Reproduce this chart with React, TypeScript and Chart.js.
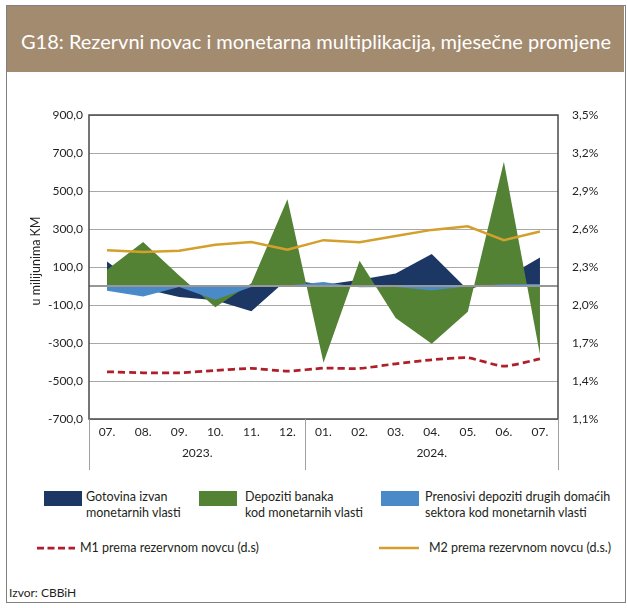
import React, { useEffect, useRef } from 'react';
import { Chart, registerables } from 'chart.js';

Chart.register(...registerables);

// ---------- data ----------
const months = ['07.', '08.', '09.', '10.', '11.', '12.', '01.', '02.', '03.', '04.', '05.', '06.', '07.'];
const yearLabels = ['2023.', '2024.'];
const yearStarts = [0, 6];

const gotovina = [129, -15, -58, -75, -133, 35, 5, 33, 66, 168, -20, 40, 150];
const depoziti = [85, 232, 55, -112, 15, 457, -404, 133, -168, -304, -135, 654, -361];
const prenosivi = [-25, -55, -5, -72, -5, 2, 21, -7, -5, -23, -3, 10, 10];
const m1 = [1.473, 1.465, 1.465, 1.483, 1.499, 1.478, 1.501, 1.499, 1.536, 1.567, 1.583, 1.517, 1.575];
const m2 = [2.433, 2.418, 2.428, 2.475, 2.497, 2.436, 2.512, 2.496, 2.545, 2.593, 2.622, 2.512, 2.58];

const leftTicks = [-700, -500, -300, -100, 100, 300, 500, 700, 900];
const rightTicks = [1.1, 1.4, 1.7, 2.0, 2.3, 2.6, 2.9, 3.2, 3.5];

const title = 'G18: Rezervni novac i monetarna multiplikacija, mjesečne promjene';
const yTitle = 'u milijunima KM';
const source = 'Izvor:  CBBiH';
const labelGotovina = ['Gotovina izvan', 'monetarnih vlasti'];
const labelDepoziti = ['Depoziti banaka', 'kod monetarnih vlasti'];
const labelPrenosivi = ['Prenosivi depoziti drugih domaćih', 'sektora kod monetarnih vlasti'];
const labelM1 = 'M1 prema rezervnom novcu (d.s)';
const labelM2 = 'M2 prema rezervnom novcu (d.s.)';

// ---------- styles ----------
const FONT = 'Lato, "Open Sans", sans-serif';
const TEXT = '#231f20';
const C_DARK = '#1c3764';
const C_GREEN = '#548235';
const C_LIGHT = '#4a8ac8';
const C_RED = '#ae1f2a';
const C_GOLD = '#d4a02b';

const fmtLeft = (v: number) => v.toFixed(1).replace('.', ',');
const fmtRight = (v: number) => v.toFixed(1).replace('.', ',') + '%';

const decorPlugin = {
  id: 'decor',
  afterDatasetsDraw(chart: any) {
    const { ctx, chartArea, scales } = chart;
    const x = scales.x;
    const y = scales.y;
    const y0 = y.getPixelForValue(0);
    ctx.save();
    // zero (category axis) line
    ctx.strokeStyle = '#979797';
    ctx.lineWidth = 2;
    ctx.beginPath();
    ctx.moveTo(chartArea.left, y0);
    ctx.lineTo(chartArea.right, y0);
    ctx.stroke();
    // plot border
    ctx.strokeStyle = '#4a4a4a';
    ctx.lineWidth = 1.5;
    ctx.strokeRect(chartArea.left, chartArea.top, chartArea.right - chartArea.left, chartArea.bottom - chartArea.top);
    // group separators
    ctx.strokeStyle = '#a0a0a0';
    ctx.lineWidth = 1;
    const sepBottom = chartArea.bottom + 51;
    const bounds: number[] = [];
    yearStarts.forEach((s) => {
      const px = s === 0 ? chartArea.left : (x.getPixelForValue(s - 1) + x.getPixelForValue(s)) / 2;
      bounds.push(px);
    });
    bounds.push(chartArea.right);
    bounds.forEach((px) => {
      ctx.beginPath();
      ctx.moveTo(Math.round(px) + 0.5, chartArea.bottom);
      ctx.lineTo(Math.round(px) + 0.5, sepBottom);
      ctx.stroke();
    });
    // year labels
    ctx.fillStyle = TEXT;
    ctx.font = `12px ${FONT}`;
    ctx.textAlign = 'center';
    ctx.textBaseline = 'middle';
    yearLabels.forEach((lab, i) => {
      const cx = (bounds[i] + bounds[i + 1]) / 2;
      ctx.fillText(lab, cx, chartArea.bottom + 34);
    });
    // y-axis title
    ctx.font = `12.5px ${FONT}`;
    ctx.translate(chartArea.left - 53, (chartArea.top + chartArea.bottom) / 2 - 6);
    ctx.rotate(-Math.PI / 2);
    ctx.fillText(yTitle, 0, 0);
    ctx.restore();
  },
};

function ChartCanvas() {
  const ref = useRef<HTMLCanvasElement | null>(null);
  useEffect(() => {
    if (!ref.current) return;
    const chart = new Chart(ref.current, {
      type: 'line',
      data: {
        labels: months,
        datasets: [
          { label: labelM1, data: m1, yAxisID: 'y2', borderColor: C_RED, borderWidth: 2.75, borderDash: [7, 4], pointRadius: 0, fill: false, order: 0, tension: 0.2 },
          { label: labelM2, data: m2, yAxisID: 'y2', borderColor: C_GOLD, borderWidth: 2.5, pointRadius: 0, fill: false, order: 1, tension: 0 },
          { label: labelPrenosivi.join(' '), data: prenosivi, yAxisID: 'y', backgroundColor: C_LIGHT, borderColor: C_LIGHT, borderWidth: 0, pointRadius: 0, fill: 'origin', order: 2 },
          { label: labelDepoziti.join(' '), data: depoziti, yAxisID: 'y', backgroundColor: C_GREEN, borderColor: C_GREEN, borderWidth: 0, pointRadius: 0, fill: 'origin', order: 3 },
          { label: labelGotovina.join(' '), data: gotovina, yAxisID: 'y', backgroundColor: C_DARK, borderColor: C_DARK, borderWidth: 0, pointRadius: 0, fill: 'origin', order: 4 },
        ],
      },
      options: {
        responsive: false,
        animation: false,
        layout: { padding: { top: 43, left: 0, right: 0, bottom: 0 } },
        plugins: { legend: { display: false }, tooltip: { enabled: false }, title: { display: false } },
        elements: { line: { tension: 0 } },
        scales: {
          x: {
            type: 'category',
            offset: true,
            grid: { display: false, drawTicks: false },
            border: { display: false },
            ticks: { color: TEXT, font: { family: FONT, size: 12 }, padding: 6, maxRotation: 0, autoSkip: false },
            afterFit: (s: any) => { s.height = 61; },
          },
          y: {
            position: 'left',
            min: -700,
            max: 900,
            grid: { color: '#a8a8a8', lineWidth: 1, drawTicks: false },
            border: { display: false },
            ticks: { color: TEXT, font: { family: FONT, size: 12 }, padding: 6, callback: (v: any) => fmtLeft(Number(v)) },
            afterBuildTicks: (s: any) => { s.ticks = leftTicks.map((v) => ({ value: v })); },
            afterFit: (s: any) => { s.width = 82; },
          },
          y2: {
            position: 'right',
            min: 1.1,
            max: 3.5,
            grid: { display: false, drawTicks: false },
            border: { display: false },
            ticks: { color: TEXT, font: { family: FONT, size: 12 }, padding: 14, callback: (v: any) => fmtRight(Number(v)) },
            afterBuildTicks: (s: any) => { s.ticks = rightTicks.map((v) => ({ value: v })); },
            afterFit: (s: any) => { s.width = 67; },
          },
        },
      },
      plugins: [decorPlugin],
    } as any);
    return () => chart.destroy();
  }, []);
  return <canvas ref={ref} width={618} height={408} style={{ position: 'absolute', left: 7, top: 72, width: 618, height: 408 }} />;
}

const textStyle: React.CSSProperties = { position: 'absolute', fontSize: 12.5, lineHeight: '16px', color: TEXT, whiteSpace: 'nowrap' };

function Box({ left, color }: { left: number; color: string }) {
  return <div style={{ position: 'absolute', left, top: 491, width: 38, height: 15, background: color }} />;
}

export default function App() {
  return (
    <div style={{ position: 'absolute', left: 0, top: 0, width: 627, height: 608, background: '#fff', fontFamily: FONT }}>
      <div style={{ position: 'absolute', left: 6, top: 5, width: 620, height: 598, border: '1px solid #808080', boxSizing: 'border-box' }} />
      <div style={{ position: 'absolute', left: 7, top: 6, width: 617, height: 66, background: '#a38b70' }} />
      <div style={{ position: 'absolute', left: 21, top: 28, fontSize: 20, lineHeight: '26px', color: '#fff', whiteSpace: 'nowrap' }}>{title}</div>
      <ChartCanvas />
      <Box left={44} color={C_DARK} />
      <div style={{ ...textStyle, left: 86, top: 489 }}>{labelGotovina[0]}<br />{labelGotovina[1]}</div>
      <Box left={199} color={C_GREEN} />
      <div style={{ ...textStyle, left: 245, top: 489 }}>{labelDepoziti[0]}<br />{labelDepoziti[1]}</div>
      <Box left={381} color={C_LIGHT} />
      <div style={{ ...textStyle, left: 425, top: 489 }}>{labelPrenosivi[0]}<br />{labelPrenosivi[1]}</div>
      <svg style={{ position: 'absolute', left: 37, top: 544 }} width={40} height={8}>
        <line x1={0} y1={4} x2={38} y2={4} stroke={C_RED} strokeWidth={2.75} strokeDasharray="7 3.5" />
      </svg>
      <div style={{ ...textStyle, left: 80, top: 540 }}>{labelM1}</div>
      <svg style={{ position: 'absolute', left: 379, top: 544 }} width={42} height={8}>
        <line x1={0} y1={4} x2={40} y2={4} stroke={C_GOLD} strokeWidth={2.5} />
      </svg>
      <div style={{ ...textStyle, left: 429, top: 540 }}>{labelM2}</div>
      <div style={{ ...textStyle, left: 9, top: 585, fontSize: 12 }}>{source}</div>
    </div>
  );
}
